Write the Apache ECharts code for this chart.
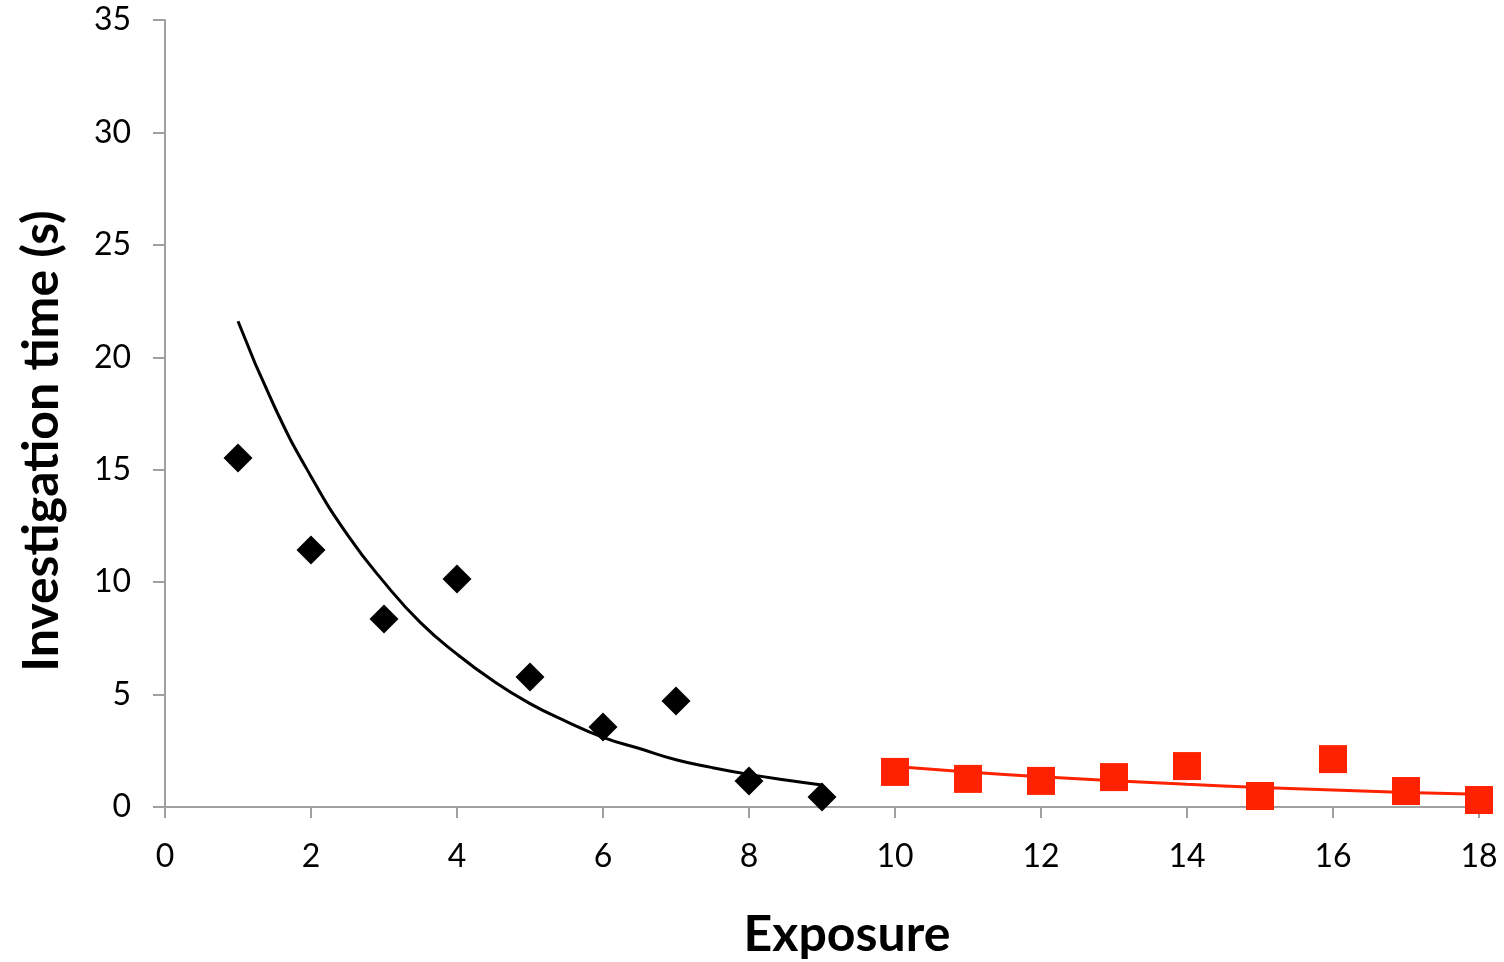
<!DOCTYPE html>
<html>
<head>
<meta charset="utf-8">
<script src="https://cdn.jsdelivr.net/npm/echarts@6/dist/echarts.min.js"></script>
<style>html,body{margin:0;padding:0;background:#fff}#c{width:1504px;height:962px}</style>
</head>
<body>
<div id="c"></div>
<script>
// Data
const blackX = [1, 2, 3, 4, 5, 6, 7, 8, 9];
const blackY = [15.52, 11.43, 8.36, 10.14, 5.78, 3.56, 4.71, 1.16, 0.44];
const redX = [10, 11, 12, 13, 14, 15, 16, 17, 18];
const redY = [1.56, 1.25, 1.16, 1.33, 1.82, 0.49, 2.13, 0.71, 0.31];
const blackTrendX = [1, 1.5, 2, 2.5, 3, 3.5, 4, 4.5, 5, 5.5, 6, 6.5, 7, 7.5, 8, 8.5, 9];
const blackTrendY = [21.6, 17.8, 14.7, 12.1, 10.0, 8.2, 6.8, 5.6, 4.6, 3.8, 3.1, 2.6, 2.1, 1.75, 1.45, 1.2, 0.98];
const redTrendX = [10, 11, 12, 13, 14, 15, 16, 17, 18];
const redTrendY = [1.80, 1.56, 1.35, 1.17, 1.01, 0.87, 0.76, 0.65, 0.57];
const xTicks = [0, 2, 4, 6, 8, 10, 12, 14, 16, 18];
const yTicks = [0, 5, 10, 15, 20, 25, 30, 35];

const zip = (a, b) => a.map((v, i) => [v, b[i]]);
const font = 'Lato, "Open Sans", sans-serif';
const axisGray = '#a0a0a0';

const chart = echarts.init(document.getElementById('c'));
chart.setOption({
  animation: false,
  backgroundColor: '#fff',
  grid: { left: 165, right: 25, top: 20, bottom: 155 },
  xAxis: {
    type: 'value', min: 0, max: 18, interval: 2,
    axisLine: { show: true, lineStyle: { color: axisGray, width: 2 } },
    axisTick: { show: true, length: 11, lineStyle: { color: axisGray, width: 2 } },
    splitLine: { show: false },
    axisLabel: { color: '#000', fontSize: 32, fontFamily: font, margin: 34,
      formatter: v => xTicks.includes(v) ? String(v) : '' }
  },
  yAxis: {
    type: 'value', min: 0, max: 35, interval: 5,
    axisLine: { show: true, lineStyle: { color: axisGray, width: 2 } },
    axisTick: { show: true, length: 12, lineStyle: { color: axisGray, width: 2 } },
    splitLine: { show: false },
    axisLabel: { color: '#000', fontSize: 32, fontFamily: font, margin: 34,
      formatter: v => yTicks.includes(v) ? String(v) : '' }
  },
  graphic: [
    { type: 'text', x: 847, y: 935, style: { text: 'Exposure', fill: '#000', font: 'bold 50px ' + font, textAlign: 'center', textVerticalAlign: 'middle' } },
    { type: 'text', x: 42, y: 441, rotation: Math.PI / 2, style: { text: 'Investigation time (s)', fill: '#000', font: 'bold 50px ' + font, textAlign: 'center', textVerticalAlign: 'middle' } }
  ],
  series: [
    { type: 'line', data: zip(blackTrendX, blackTrendY), smooth: true, showSymbol: false, symbol: 'none',
      lineStyle: { color: '#000', width: 3 }, z: 2 },
    { type: 'line', data: zip(redTrendX, redTrendY), smooth: true, showSymbol: false, symbol: 'none',
      lineStyle: { color: '#ff2200', width: 3 }, z: 2 },
    { type: 'scatter', data: zip(blackX, blackY), symbol: 'diamond', symbolSize: [29, 29],
      itemStyle: { color: '#000', opacity: 1 }, z: 3 },
    { type: 'scatter', data: zip(redX, redY), symbol: 'rect', symbolSize: [28, 28],
      itemStyle: { color: '#ff2200', opacity: 1 }, z: 3 }
  ]
});
</script>
</body>
</html>
